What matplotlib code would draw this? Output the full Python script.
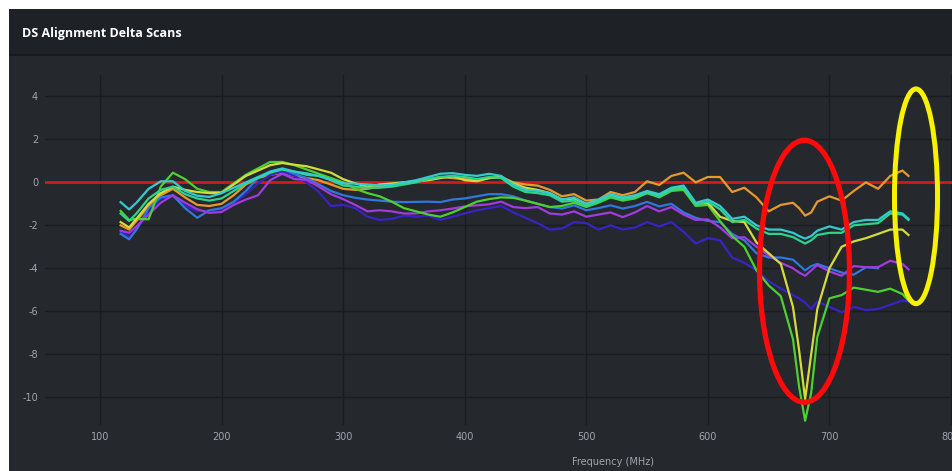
import numpy as np
import matplotlib.pyplot as plt
from matplotlib.patches import Rectangle, Ellipse

plt.rcParams['axes.unicode_minus'] = False

# frequency grid (MHz)
freq = [117, 124, 130, 140, 150, 160, 170, 180, 190, 200,
        210, 220, 230, 240, 250, 260, 270, 280, 290, 300,
        310, 320, 330, 340, 350, 360, 370, 380, 390, 400,
        410, 420, 430, 440, 450, 460, 470, 480, 490, 500,
        510, 520, 530, 540, 550, 560, 570, 580, 590, 600,
        610, 620, 630, 640, 650, 660, 670, 675, 680, 685,
        690, 700, 710, 720, 730, 740, 750, 760, 765]

# delta scans (dB)
cyan = [-0.92, -1.26, -0.95, -0.30, 0.05, 0.05, -0.40, -0.62, -0.68, -0.50,
        -0.25, 0.00, 0.25, 0.50, 0.65, 0.50, 0.42, 0.30, 0.12, -0.05,
        -0.06, -0.10, -0.14, -0.12, 0.00, 0.10, 0.25, 0.40, 0.43, 0.35,
        0.30, 0.40, 0.30, -0.10, -0.35, -0.40, -0.50, -0.80, -0.70, -1.00,
        -0.80, -0.55, -0.70, -0.60, -0.40, -0.55, -0.25, -0.15, -0.95, -0.80,
        -1.10, -1.70, -1.60, -2.00, -2.20, -2.20, -2.35, -2.50, -2.62, -2.50,
        -2.25, -2.05, -2.20, -1.85, -1.75, -1.75, -1.35, -1.45, -1.70]
spring = [-1.45, -1.80, -1.45, -0.75, -0.35, -0.20, -0.55, -0.75, -0.85, -0.75,
          -0.40, -0.05, 0.20, 0.45, 0.60, 0.50, 0.35, 0.30, 0.10, -0.15,
          -0.20, -0.25, -0.25, -0.20, -0.10, 0.00, 0.15, 0.25, 0.30, 0.25,
          0.15, 0.25, 0.20, -0.20, -0.45, -0.50, -0.60, -0.90, -0.85, -1.10,
          -0.90, -0.65, -0.80, -0.70, -0.50, -0.65, -0.35, -0.25, -1.05, -0.90,
          -1.25, -1.85, -1.75, -2.15, -2.40, -2.40, -2.55, -2.70, -2.85, -2.70,
          -2.45, -2.35, -2.35, -2.00, -1.95, -1.90, -1.45, -1.50, -1.75]
green = [-1.33, -1.75, -1.70, -1.72, -0.20, 0.45, 0.15, -0.30, -0.45, -0.45,
         -0.05, 0.35, 0.65, 0.95, 0.95, 0.80, 0.60, 0.40, 0.20, 0.00,
         -0.30, -0.50, -0.65, -0.90, -1.20, -1.35, -1.50, -1.60, -1.40, -1.15,
         -0.90, -0.78, -0.70, -0.72, -0.85, -1.00, -1.15, -1.10, -0.95, -1.15,
         -0.95, -0.70, -0.85, -0.75, -0.50, -0.70, -0.40, -0.35, -1.10, -1.05,
         -1.80, -2.50, -3.00, -4.10, -4.80, -5.30, -7.30, -9.50, -11.10, -9.80,
         -7.20, -5.40, -5.25, -4.90, -5.00, -5.10, -4.95, -5.20, -5.50]
yellow = [-1.85, -2.10, -1.70, -1.00, -0.50, -0.20, -0.35, -0.45, -0.50, -0.50,
          -0.10, 0.30, 0.55, 0.80, 0.90, 0.82, 0.75, 0.60, 0.45, 0.15,
          -0.05, -0.20, -0.10, -0.05, 0.00, 0.05, 0.10, 0.20, 0.30, 0.10,
          0.05, 0.20, 0.25, -0.05, -0.25, -0.35, -0.50, -0.80, -0.75, -1.00,
          -0.85, -0.60, -0.75, -0.65, -0.45, -0.60, -0.30, -0.25, -1.00, -0.95,
          -1.60, -1.80, -1.85, -2.80, -3.30, -3.80, -5.80, -7.80, -10.10, -8.00,
          -5.90, -4.00, -3.00, -2.75, -2.60, -2.40, -2.20, -2.20, -2.45]
orange = [-2.00, -2.20, -1.80, -1.10, -0.60, -0.30, -0.70, -1.05, -1.10, -1.00,
          -0.60, -0.10, 0.20, 0.35, 0.45, 0.30, 0.20, 0.10, -0.10, -0.30,
          -0.35, -0.30, -0.20, -0.10, 0.00, 0.05, 0.15, 0.25, 0.20, 0.15,
          0.10, 0.20, 0.25, 0.00, -0.10, -0.15, -0.35, -0.65, -0.55, -0.85,
          -0.80, -0.45, -0.60, -0.45, 0.05, -0.12, 0.30, 0.45, 0.00, 0.25,
          0.25, -0.45, -0.25, -0.70, -1.35, -1.05, -0.95, -1.20, -1.55, -1.40,
          -0.90, -0.65, -0.85, -0.40, 0.00, -0.30, 0.30, 0.55, 0.30]
blue = [-2.40, -2.65, -2.20, -1.20, -0.70, -0.60, -1.20, -1.65, -1.30, -1.20,
        -0.90, -0.40, 0.20, 0.50, 0.62, 0.40, 0.20, -0.10, -0.40, -0.60,
        -0.72, -0.80, -0.85, -0.90, -0.92, -0.91, -0.90, -0.92, -0.80, -0.75,
        -0.65, -0.55, -0.55, -0.65, -0.85, -1.00, -1.15, -1.22, -1.07, -1.30,
        -1.20, -1.07, -1.22, -1.10, -0.91, -1.12, -1.00, -1.40, -1.65, -1.80,
        -1.85, -2.40, -2.70, -3.30, -3.50, -3.50, -3.60, -3.85, -4.10, -3.90,
        -3.80, -4.00, -4.20, -4.30, -3.95, -4.00]
purple = [-2.25, -2.35, -2.05, -1.50, -0.95, -0.60, -0.95, -1.25, -1.42, -1.38,
          -1.05, -0.80, -0.60, 0.10, 0.40, 0.15, 0.12, -0.20, -0.55, -0.78,
          -1.05, -1.35, -1.30, -1.35, -1.45, -1.45, -1.35, -1.30, -1.22, -1.12,
          -1.07, -1.02, -0.90, -1.15, -1.20, -1.15, -1.45, -1.50, -1.35, -1.60,
          -1.50, -1.40, -1.62, -1.40, -1.10, -1.35, -1.15, -1.50, -1.75, -1.72,
          -2.10, -2.60, -2.55, -3.00, -3.40, -3.75, -4.00, -4.20, -4.35, -4.10,
          -3.85, -4.15, -4.35, -3.90, -3.95, -3.95, -3.65, -3.80, -4.05]
indigo = [-2.30, -2.55, -2.20, -1.40, -0.75, -0.65, -1.10, -1.35, -1.30, -1.25,
          -0.95, -0.55, -0.05, 0.35, 0.50, 0.30, 0.00, -0.45, -1.10, -1.05,
          -1.20, -1.60, -1.75, -1.70, -1.55, -1.60, -1.55, -1.75, -1.60, -1.45,
          -1.30, -1.20, -1.10, -1.40, -1.65, -1.90, -2.20, -2.15, -1.85, -1.90,
          -2.20, -2.00, -2.20, -2.10, -1.85, -2.05, -1.85, -2.30, -2.85, -2.60,
          -2.70, -3.50, -3.75, -4.10, -4.60, -4.95, -5.25, -5.40, -5.60, -5.90,
          -5.55, -5.80, -6.05, -5.80, -5.95, -5.90, -5.70, -5.50, -5.55]

series = [(orange, '#e59a2e'), (indigo, '#3a22c4'), (blue, '#2f78dc'),
          (purple, '#a23ae0'), (green, '#4cd12e'), (yellow, '#d4dc3c'),
          (spring, '#2ed48a'), (cyan, '#32cbd0')]

xticks = [100, 200, 300, 400, 500, 600, 700, 800]
yticks = [-10, -8, -6, -4, -2, 0, 2, 4]

W, H = 952, 471
panel_bg = '#25282d'
header_bg = '#1e2125'
grid_c = '#1a1c20'
text_c = '#a3a7ad'

fig = plt.figure(figsize=(W / 100, H / 100), dpi=100, facecolor='white')

# dashboard panel
fig.add_artist(Rectangle((9 / W, 0), 1, 1 - 9 / H, transform=fig.transFigure,
                         facecolor=panel_bg, edgecolor='none', zorder=0))
fig.add_artist(Rectangle((9 / W, 1 - 54 / H), 1, 45 / H, transform=fig.transFigure,
                         facecolor=header_bg, edgecolor='none', zorder=0))
fig.add_artist(Rectangle((9 / W, 1 - 56 / H), 1, 2 / H, transform=fig.transFigure,
                         facecolor='#17191c', edgecolor='none', zorder=0))
fig.text(22 / W, 1 - 33 / H, 'DS Alignment Delta Scans', color='white',
         fontsize=9, fontweight='bold', family=['Open Sans', 'DejaVu Sans'],
         va='center', ha='left')

ax = fig.add_axes([45 / W, (H - 425) / H, (W - 45) / W, (425 - 75) / H])
ax.set_facecolor(panel_bg)
for s in ax.spines.values():
    s.set_visible(False)

ax.set_xlim(54.8, 800.8)
ax.set_ylim(-11.3, 5.0)
ax.set_xticks(xticks)
ax.set_yticks(yticks)
ax.grid(True, color=grid_c, linewidth=1.0)
ax.set_axisbelow(True)
ax.tick_params(length=0, colors=text_c, labelsize=7, pad=5)

ax.axhline(0, color='#d41a1a', linewidth=2.0, zorder=2)

for vals, col in series:
    ax.plot(freq[:len(vals)], vals, color=col, linewidth=1.6, zorder=3)

# annotation ellipses
ax.add_patch(Ellipse((679.5, -4.14), 74, 12.2, fill=False, edgecolor='#ff0a0a',
                     linewidth=3.8, zorder=5, clip_on=False))
ax.add_patch(Ellipse((771.2, -0.65), 35.4, 10.0, fill=False, edgecolor='#f7f200',
                     linewidth=3.6, zorder=5, clip_on=False))

ax.set_xlabel('Frequency (MHz)', color=text_c, fontsize=7)
ax.xaxis.set_label_coords((613 - 45) / (W - 45), -32 / 350)

fig.savefig('out.png', dpi=100, facecolor='white')
